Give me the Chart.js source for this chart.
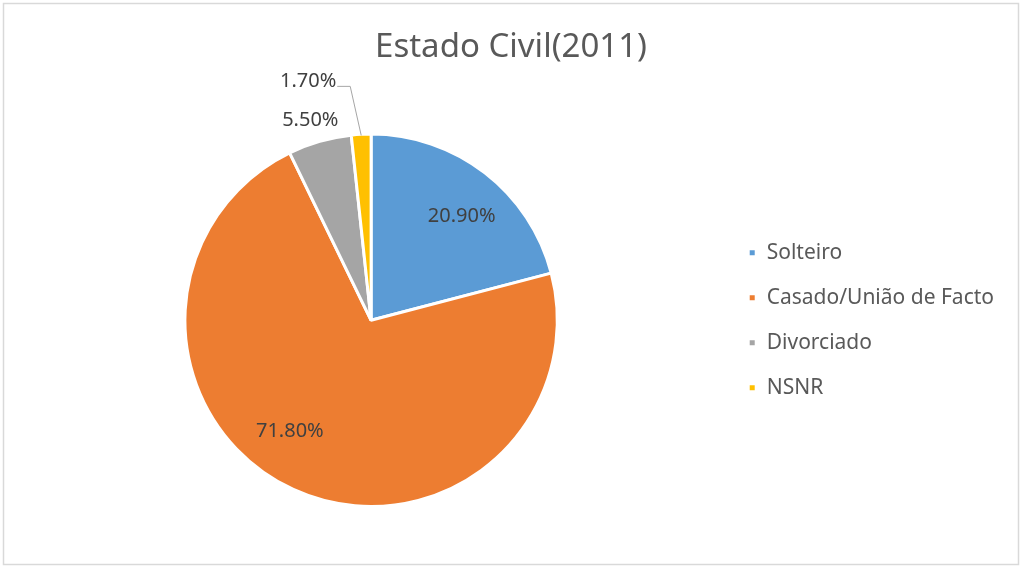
<!DOCTYPE html>
<html lang="pt">
<head>
    <meta charset="UTF-8">
    <title>Estado Civil(2011)</title>
    <script src="https://cdn.jsdelivr.net/npm/chart.js"></script>
    <style>
        body {
            margin: 0;
            background: #fff;
        }
        #wrap {
            width: 1022px;
            height: 568px;
            position: relative;
        }
    </style>
</head>
<body>
    <div id="wrap">
        <canvas id="pieChart"></canvas>
    </div>

    <script>
        // dados
        const categorias = ['Solteiro', 'Casado/União de Facto', 'Divorciado', 'NSNR'];
        const percentagens = [20.9, 71.8, 5.5, 1.7];
        const cores = ['#5B9BD5', '#ED7D31', '#A5A5A5', '#FFC000'];

        const FONT = '"Noto Sans", "Open Sans", sans-serif';

        // moldura cinzenta à volta do gráfico
        const moldura = {
            id: 'moldura',
            beforeDraw(chart) {
                const ctx = chart.ctx;
                ctx.save();
                ctx.fillStyle = '#fff';
                ctx.fillRect(0, 0, chart.width, chart.height);
                ctx.strokeStyle = '#d9d9d9';
                ctx.lineWidth = 1.5;
                ctx.strokeRect(3.5, 3.5, chart.width - 7, chart.height - 7);
                ctx.restore();
            }
        };

        // rótulos das fatias (dentro, fora e com linha de chamada)
        const rotulos = {
            id: 'rotulos',
            afterDatasetsDraw(chart, args, opts) {
                const ctx = chart.ctx;
                const meta = chart.getDatasetMeta(0);
                ctx.save();
                ctx.font = '20px ' + FONT;
                ctx.fillStyle = '#404040';
                ctx.textAlign = 'center';
                ctx.textBaseline = 'middle';
                meta.data.forEach((arc, i) => {
                    const p = arc.getProps(['x', 'y', 'startAngle', 'endAngle', 'outerRadius'], true);
                    const mid = (p.startAngle + p.endAngle) / 2 + (opts.shift[i] || 0);
                    const txt = percentagens[i].toFixed(2) + '%';
                    const r = p.outerRadius;
                    if (opts.mode[i] === 'in') {
                        ctx.fillText(txt, p.x + Math.cos(mid) * r * 0.74, p.y + Math.sin(mid) * r * 0.74);
                    } else if (opts.mode[i] === 'out') {
                        ctx.fillText(txt, p.x + Math.cos(mid) * (r + 23), p.y + Math.sin(mid) * (r + 23));
                    } else {
                        // linha de chamada
                        const ex = p.x + Math.cos(mid) * (r - 1);
                        const ey = p.y + Math.sin(mid) * (r - 1);
                        const lx = ex - 53, ly = ey - 54;
                        ctx.strokeStyle = '#a6a6a6';
                        ctx.lineWidth = 1;
                        ctx.beginPath();
                        ctx.moveTo(ex, ey);
                        ctx.lineTo(ex - 11, ly + 5);
                        ctx.lineTo(ex - 24, ly + 5);
                        ctx.stroke();
                        ctx.fillText(txt, lx, ly);
                    }
                });
                ctx.restore();
            }
        };

        new Chart(document.getElementById('pieChart'), {
            type: 'pie',
            data: {
                labels: categorias,
                datasets: [{
                    data: percentagens,
                    backgroundColor: cores,
                    borderColor: '#fff',
                    borderWidth: 3
                }]
            },
            options: {
                responsive: true,
                maintainAspectRatio: false,
                animation: false,
                layout: {
                    padding: { top: 0, bottom: 60, left: 18, right: 18 }
                },
                plugins: {
                    title: {
                        display: true,
                        text: 'Estado Civil(2011)',
                        color: '#595959',
                        font: { family: FONT, size: 33, weight: 'normal' },
                        padding: { top: 28, bottom: 65 }
                    },
                    legend: {
                        position: 'right',
                        fullSize: false,
                        labels: {
                            color: '#595959',
                            font: { family: FONT, size: 21 },
                            boxWidth: 8,
                            boxHeight: 8,
                            padding: 24
                        }
                    },
                    tooltip: { enabled: false },
                    rotulos: {
                        mode: ['in', 'in', 'out', 'call'],
                        shift: [0.06, 0.2, -0.015, 0]
                    }
                }
            },
            plugins: [moldura, rotulos]
        });
    </script>
</body>
</html>
